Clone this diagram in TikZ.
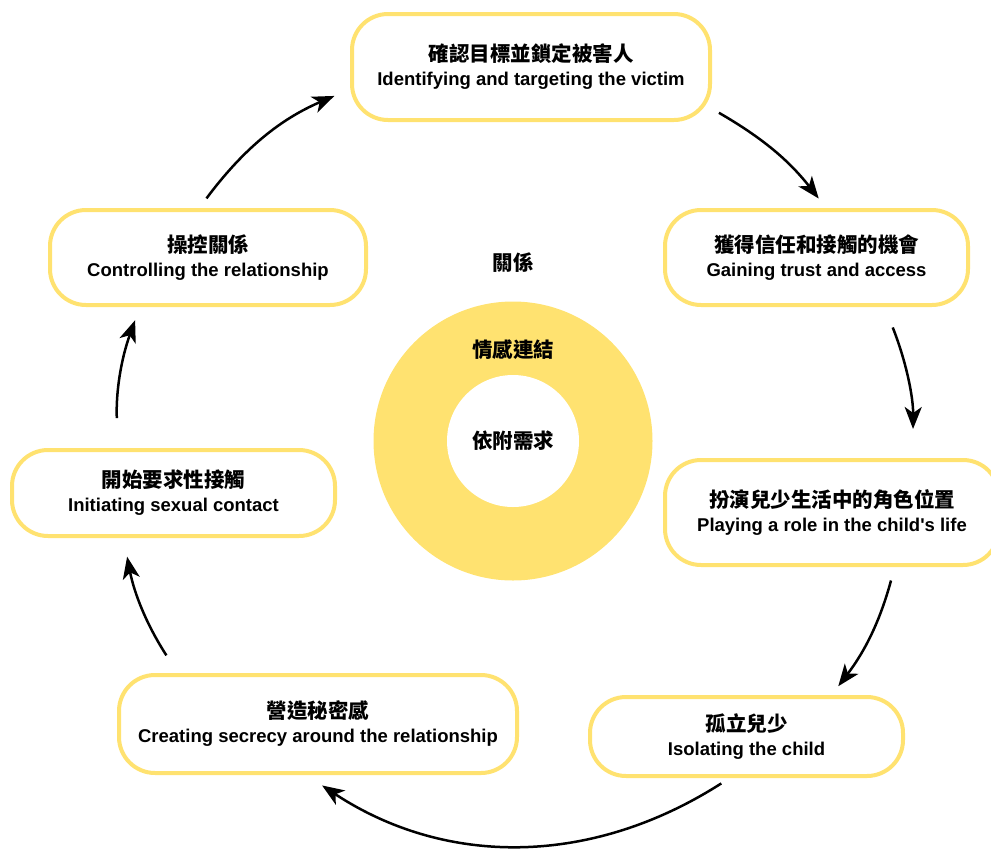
\documentclass[tikz,border=0pt]{standalone}
\usepackage{fontspec}
\setmainfont{Liberation Sans}
\newfontfamily\cjk{Noto Sans CJK TC}
\usetikzlibrary{arrows.meta}
\definecolor{gold}{RGB}{255,226,112}
\newcommand{\stagetext}[2]{{\cjk\fontsize{20.5}{24}\selectfont #1}\\#2}

\begin{document}
\begin{tikzpicture}[x=1pt,y=-1pt,
    stage/.style={draw=gold, line width=4pt, fill=white, rounded corners=36pt,
      align=center, inner sep=0pt, font=\bfseries\fontsize{18.5}{24}\selectfont},
    label/.style={font=\cjk\bfseries\fontsize{20.5}{24}\selectfont},
    flow/.style={line width=2.5pt, -{Stealth[length=22pt,width=17pt,inset=6pt]}}]
    \useasboundingbox (0,0) rectangle (991,849);
    % Centre ring
    \node[circle, fill=gold, minimum size=279pt] (ring) at (513,441) {};
    \node[circle, fill=white, minimum size=132pt] (core) at (513,441) {};
    \node[label] (relation) at (513,263) {關係};
    \node[label] (bond) at (513,350) {情感連結};
    \node[label] (need) at (513,441) {依附需求};
    % Stages of the cycle
    \node[stage, minimum width=358pt, minimum height=106pt] (target) at (531,67)
      {\stagetext{確認目標並鎖定被害人}{Identifying and targeting the victim}};
    \node[stage, minimum width=303pt, minimum height=95pt] (trust) at (816.5,257.5)
      {\stagetext{獲得信任和接觸的機會}{Gaining trust and access}};
    \node[stage, minimum width=334pt, minimum height=105pt] (role) at (832,512.5)
      {\stagetext{扮演兒少生活中的角色位置}{Playing a role in the child\textquotesingle s life}};
    \node[stage, minimum width=313pt, minimum height=79pt] (isolate) at (746.5,736.5)
      {\stagetext{孤立兒少}{Isolating the child}};
    \node[stage, minimum width=398pt, minimum height=98pt] (secret) at (318,724)
      {\stagetext{營造秘密感}{Creating secrecy around the relationship}};
    \node[stage, minimum width=323pt, minimum height=86pt] (contact) at (173.5,493)
      {\stagetext{開始要求性接觸}{Initiating sexual contact}};
    \node[stage, minimum width=316pt, minimum height=95pt] (control) at (208,257.5)
      {\stagetext{操控關係}{Controlling the relationship}};
    % Curved arrows round the cycle
    \foreach \src/\dst/\sa/\sb/\bnd in {
        target.-13/trust.79/8/12/11,
        trust.-36/role.34/22/29/11,
        role.-41/isolate.26/14/11/11,
        isolate.-112/secret.-103/10/19/33,
        secret.160/contact.-138/21/19/11,
        contact.141/control.-144/30/14/11,
        control.100/target.-173/12/17/15}
    \draw[flow, shorten <=\sa pt, shorten >=\sb pt] (\src) to[bend left=\bnd] (\dst);
\end{tikzpicture}
\end{document}
